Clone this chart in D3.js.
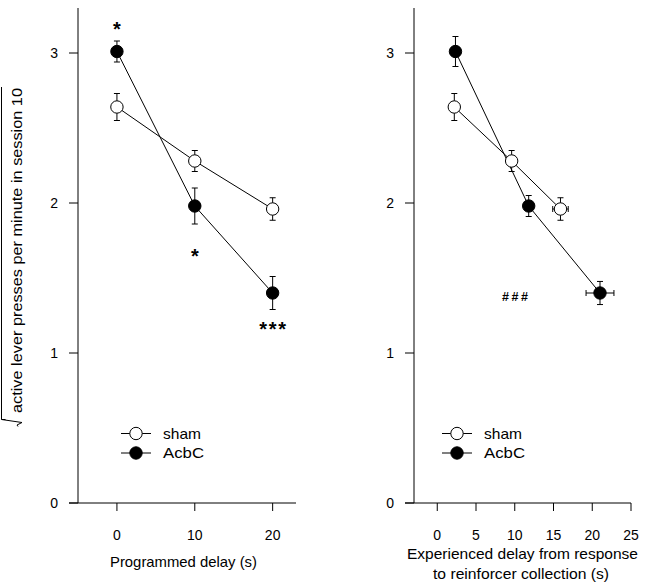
<!DOCTYPE html>
<html><head><meta charset="utf-8">
<script src="https://cdn.jsdelivr.net/npm/d3@7"></script>
<style>body{margin:0;background:#fff}svg{display:block}text{font-family:"Liberation Sans",Arial,sans-serif;fill:#000}</style>
</head><body>
<svg id="c" width="653" height="588"></svg>
<script>
// ---- data ----
const groups = ["sham", "AcbC"];
const programmedDelay = [0, 10, 20];
const shamMean = [2.64, 2.28, 1.96];
const shamSem = [0.09, 0.07, 0.075];
const acbcMean = [3.01, 1.98, 1.40];
const acbcSem = [0.07, 0.12, 0.11];
const shamExpDelay = [2.2, 9.6, 15.9];
const shamExpDelaySem = [0, 0, 1.0];
const acbcExpDelay = [2.35, 11.8, 21.0];
const acbcExpDelaySem = [0, 0, 1.8];
const shamSemRight = [0.09, 0.07, 0.075];
const acbcSemRight = [0.10, 0.07, 0.077];
const leftXTicks = [0, 10, 20];
const rightXTicks = [0, 5, 10, 15, 20, 25];
const yTicks = [0, 1, 2, 3];
const leftSig = ["*", "*", "***"];
const leftSigValue = [3.19, 1.68, 1.19];

const svg = d3.select("#c");
const y = d3.scaleLinear().domain([0, 3.3]).range([503, 8]);

function fitText(sel, w) {
  return sel.attr("textLength", w).attr("lengthAdjust", "spacingAndGlyphs");
}

function panel(x, opts) {
  const g = svg.append("g");
  const x0 = x.range()[0];
  // y axis
  g.append("line").attr("x1", x0).attr("x2", x0).attr("y1", y(3.3)).attr("y2", y(0)).attr("stroke", "#000");
  yTicks.forEach(t => {
    g.append("line").attr("x1", x0 - 9).attr("x2", x0).attr("y1", y(t)).attr("y2", y(t)).attr("stroke", "#000");
    g.append("text").attr("x", x0 - 20).attr("y", y(t) + 5).attr("text-anchor", "end").attr("font-size", 14).text(t);
  });
  // x axis
  g.append("line").attr("x1", x0 - 9).attr("x2", x.range()[1]).attr("y1", y(0)).attr("y2", y(0)).attr("stroke", "#000");
  opts.xTicks.forEach(t => {
    g.append("line").attr("x1", x(t)).attr("x2", x(t)).attr("y1", y(0)).attr("y2", y(0) + 8).attr("stroke", "#000");
    g.append("text").attr("x", x(t)).attr("y", opts.tickY).attr("text-anchor", "middle").attr("font-size", 14).text(t);
  });
  const series = [
    {name: groups[0], xs: opts.shamX, xe: opts.shamXE, ys: shamMean, ye: opts.shamYE, fill: "#fff", w: 38},
    {name: groups[1], xs: opts.acbcX, xe: opts.acbcXE, ys: acbcMean, ye: opts.acbcYE, fill: "#000", w: 41}
  ];
  const line = d3.line().x(d => x(d[0])).y(d => y(d[1]));
  series.forEach(s => {
    g.append("path").attr("d", line(s.xs.map((v, i) => [v, s.ys[i]]))).attr("fill", "none").attr("stroke", "#000").attr("stroke-width", 1);
  });
  series.forEach(s => {
    s.xs.forEach((v, i) => {
      const cx = x(v), cy = y(s.ys[i]);
      const yt = y(s.ys[i] + s.ye[i]), yb = y(s.ys[i] - s.ye[i]);
      g.append("line").attr("x1", cx).attr("x2", cx).attr("y1", yt).attr("y2", yb).attr("stroke", "#000");
      [yt, yb].forEach(yy => g.append("line").attr("x1", cx - 3).attr("x2", cx + 3).attr("y1", yy).attr("y2", yy).attr("stroke", "#000"));
      if (s.xe[i] > 0) {
        const xl = x(v - s.xe[i]), xr = x(v + s.xe[i]);
        g.append("line").attr("x1", xl).attr("x2", xr).attr("y1", cy).attr("y2", cy).attr("stroke", "#000");
        [xl, xr].forEach(xx => g.append("line").attr("x1", xx).attr("x2", xx).attr("y1", cy - 3).attr("y2", cy + 3).attr("stroke", "#000"));
      }
    });
  });
  series.forEach(s => {
    s.xs.forEach((v, i) => {
      g.append("circle").attr("cx", x(v)).attr("cy", y(s.ys[i])).attr("r", 6.2).attr("fill", s.fill).attr("stroke", "#000").attr("stroke-width", 1);
    });
  });
  // legend
  series.forEach((s, i) => {
    const ly = opts.legY + i * 19.5;
    g.append("line").attr("x1", opts.legX).attr("x2", opts.legX + 30).attr("y1", ly).attr("y2", ly).attr("stroke", "#000");
    g.append("circle").attr("cx", opts.legX + 15).attr("cy", ly).attr("r", 6.2).attr("fill", s.fill).attr("stroke", "#000");
    fitText(g.append("text").attr("x", opts.legX + 42).attr("y", ly + 5).attr("font-size", 14.5).text(s.name), s.w);
  });
  return g;
}

const xL = d3.scaleLinear().domain([-5, 23]).range([78, 296]);
const gL = panel(xL, {xTicks: leftXTicks, tickY: 540, shamX: programmedDelay, shamXE: [0,0,0], acbcX: programmedDelay, acbcXE: [0,0,0],
  shamYE: shamSem, acbcYE: acbcSem, legX: 121, legY: 433.5});
fitText(gL.append("text").attr("x", 110).attr("y", 567).attr("font-size", 14.5).text("Programmed delay (s)"), 147);
leftSig.forEach((s, i) => {
  const ls = s.length > 1 ? 1.6 : 0;
  gL.append("text").attr("x", xL(programmedDelay[i]) + ls / 2).attr("y", y(leftSigValue[i]) + 11.5)
    .attr("text-anchor", "middle").attr("font-size", 20).attr("font-weight", "bold")
    .attr("letter-spacing", ls).text(s);
});

const xR = d3.scaleLinear().domain([-3, 25]).range([414, 631]);
const gR = panel(xR, {xTicks: rightXTicks, tickY: 540, shamX: shamExpDelay, shamXE: shamExpDelaySem, acbcX: acbcExpDelay, acbcXE: acbcExpDelaySem,
  shamYE: shamSemRight, acbcYE: acbcSemRight, legX: 442, legY: 433.5});
fitText(gR.append("text").attr("x", 407).attr("y", 558.5).attr("font-size", 14.5).text("Experienced delay from response"), 231);
fitText(gR.append("text").attr("x", 433).attr("y", 578.5).attr("font-size", 14.5).text("to reinforcer collection (s)"), 176);
gR.append("text").attr("x", xR(10) + 1.5).attr("y", y(1.38) + 4.5).attr("text-anchor", "middle").attr("font-size", 12.5).attr("font-weight", "bold")
  .attr("letter-spacing", 2.6).text("###");

// y axis title with radical
const yt = svg.append("g").attr("transform", "translate(22,413) rotate(-90)");
const L = 325;
fitText(yt.append("text").attr("x", 0).attr("y", 0).attr("font-size", 14.5).text("active lever presses per minute in session 10"), L);
yt.append("path").attr("d", `M${L + 1},-20.5 H-6.5 V-16.5`).attr("fill", "none").attr("stroke", "#000");
yt.append("path").attr("d", "M-6.5,-20.5 L-9.5,0 L-12,-5 L-13.5,-4").attr("fill", "none").attr("stroke", "#000");
</script>
</body></html>
